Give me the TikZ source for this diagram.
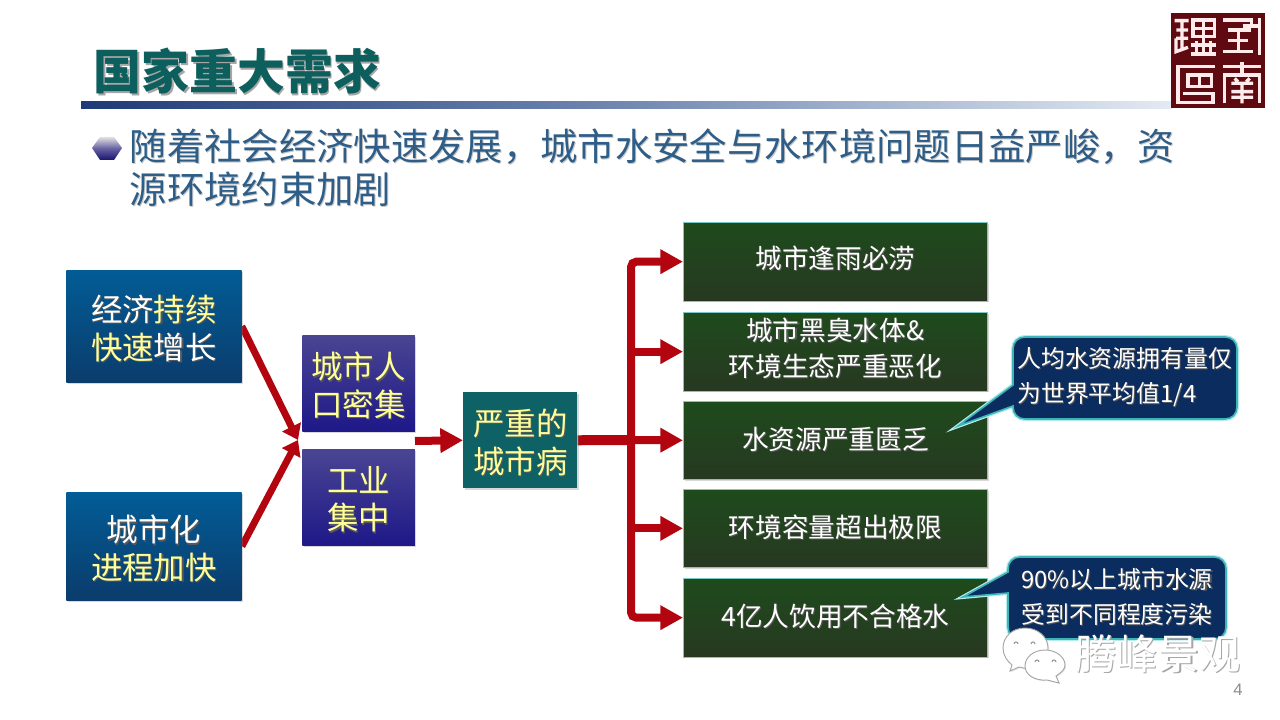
\documentclass[tikz,border=0pt]{standalone}
\usepackage{fontspec}
\setmainfont{Noto Sans CJK SC}
\newfontfamily\numfont{Liberation Sans}
\usetikzlibrary{arrows.meta,shadows,backgrounds,calc}
\definecolor{titlecol}{HTML}{0C5F5C}
\definecolor{subcol}{HTML}{2E5E88}
\definecolor{barred}{HTML}{B30510}
\definecolor{hl}{HTML}{FFFF99}
\definecolor{sealred}{HTML}{5E0A10}
\definecolor{barL}{HTML}{1F3A78}
\definecolor{barM}{HTML}{7188B2}
\definecolor{barR}{HTML}{E4EAF2}
\definecolor{blueT}{HTML}{025C96}
\definecolor{blueB}{HTML}{0B3C6C}
\definecolor{purT}{HTML}{4A4592}
\definecolor{purB}{HTML}{1E1889}
\definecolor{tealbg}{HTML}{0E6266}
\definecolor{grnT}{HTML}{1E4B1C}
\definecolor{grnB}{HTML}{273821}
\definecolor{edgecol}{HTML}{79C9C4}
\definecolor{callbg}{HTML}{0B2C5E}
\definecolor{calledge}{HTML}{3DB4B8}
\definecolor{callglow}{HTML}{B5ECEC}
% shadow behind plain text
\newcommand\sdw[2][black!65]{\rlap{\color{#1}\kern.8pt\raisebox{-.8pt}{#2}}#2}
% shadow behind yellow text
\newcommand\yl[1]{\rlap{\color{black!65}\kern.8pt\raisebox{-.8pt}{#1}}\textcolor{hl}{#1}}
% extra depth that lifts a centred text
\newcommand\lift[1]{\rule[-#1pt]{0pt}{#1pt}}
\tikzset{
  boxbase/.style={rectangle,inner sep=0pt,align=center,anchor=north west,text=white,
    drop shadow={opacity=.3,shadow xshift=1pt,shadow yshift=-1pt}},
  bluebox/.style={boxbase,minimum width=131.5pt,text depth=0pt,font=\fontsize{23.6}{28}\selectfont,
    top color=blueT,bottom color=blueB},
  purplebox/.style={boxbase,minimum width=84.5pt,minimum height=72pt,text depth=0pt,font=\fontsize{23.6}{28}\selectfont,
    top color=purT,bottom color=purB},
  tealbox/.style={boxbase,minimum width=85.5pt,minimum height=72pt,text depth=0pt,font=\fontsize{23.6}{28}\selectfont,
    fill=tealbg},
  greenbox/.style={boxbase,minimum width=228pt,minimum height=59pt,font=\fontsize{20}{27}\selectfont,
    top color=grnT,bottom color=grnB,draw=edgecol,line width=.5pt},
  flow/.style={draw=barred,line width=6pt},
  flowtip/.style={flow,-{Triangle[length=17pt,width=17.5pt]}},
  slant/.style={draw=barred,line width=5.2pt,-{Triangle[length=11pt,width=15pt]}},
  callbody/.style={fill=callbg,draw=calledge,line width=1.2pt,line join=miter,
    preaction={draw=callglow,line width=3pt}},
  calltext/.style={text=white,inner sep=0pt,font=\fontsize{17.9}{25.8}\selectfont},
  sealstroke/.style={draw=white!92!red,line width=2.5pt},
  wmbubble/.style={fill=white,draw=black!35,line width=.7pt,drop shadow={opacity=.2,shadow xshift=.8pt,shadow yshift=-.8pt}},
}
\begin{document}
\begin{tikzpicture}[x=.75pt,y=-.75pt]
\useasboundingbox (0,0) rectangle (1280,720);
\begin{scope}[on background layer]
\fill[white] (0,0) rectangle (1280,720);
\end{scope}

% title
\node[anchor=west,inner sep=0pt,text=titlecol,font=\fontsize{35.9}{40}\bfseries\selectfont] (title) at (93.5,72)
  {\rlap{\color{black!35}\kern1.2pt\raisebox{-1.2pt}{国家重大需求}}国家重大需求};
\shade[left color=barL,right color=barR,middle color=barM] (81,102) rectangle (1172,109);

% bullet
\shade[top color=black!12!white,bottom color=purB!80!black,middle color=purT!85!white]
  (92,148) -- (100,137) -- (114,137) -- (122,148) -- (114,160) -- (100,160) -- cycle;
\node[anchor=north west,inner sep=0pt,text=subcol,align=left,font=\fontsize{28}{32.4}\selectfont] (sub) at (129.5,128.5)
  {\sdw[black!22]{随着社会经济快速发展，城市水安全与水环境问题日益严峻，资}\\\sdw[black!22]{源环境约束加剧}};

% left boxes
\node[bluebox,minimum height=84pt] (econ) at (66,270)
  {\raisebox{-1.5pt}{\rlap{\color{black!65}\kern.8pt\raisebox{-.8pt}{经济持续}}经济\textcolor{hl}{持续}}\\[0pt]
   \raisebox{-1.5pt}{\rlap{\color{black!65}\kern.8pt\raisebox{-.8pt}{快速增长}}\textcolor{hl}{快速}增长}};
\node[bluebox,minimum height=81pt] (urban) at (66,492)
  {\raisebox{-1.5pt}{\sdw{城市化}}\\\raisebox{-1.5pt}{\yl{进程加快}}};
\node[purplebox] (pop) at (302,335) {\raisebox{-1.5pt}{\yl{城市人}}\\\raisebox{-1.5pt}{\yl{口密集}}};
\node[purplebox] (ind) at (302,449) {\raisebox{-1.5pt}{\yl{工业}}\\\raisebox{-1.5pt}{\yl{集中}}};
\node[tealbox] (ill) at (463,392) {\raisebox{-1.5pt}{\yl{严重的}}\\\raisebox{-1.5pt}{\yl{城市病}}};

% right boxes
\node[greenbox] (r1) at (683,222) {\sdw{城市逢雨必涝}\lift{6.2}};
\node[greenbox] (r2) at (683,312) {\sdw{城市黑臭水体\&}\\\sdw{环境生态严重恶化}\lift{6.2}};
\node[greenbox,minimum height=58.5pt] (r3) at (683,401) {\sdw{水资源严重匮乏}};
\node[greenbox,minimum height=58.5pt] (r4) at (683,489) {\sdw{环境容量超出极限}\lift{3.9}};
\node[greenbox] (r5) at (683,578) {\sdw{4亿人饮用不合格水}\lift{3.9}};

% connectors
\coordinate (merge) at (298,440);
\coordinate (gap) at (415,441);
\coordinate (trunk) at (631,440);
\begin{scope}[on background layer]
\draw[slant] (econ.east) -- (merge);
\draw[slant] (urban.east) -- (merge);
\draw[flowtip] (gap) -- (ill.west);
\draw[flow,line width=7.5pt] (ill.east) -- (trunk);
\draw[flowtip,rounded corners=4pt] (trunk) |- (r1.west);
\draw[flowtip,rounded corners=4pt] (trunk) |- (r5.west);
\draw[flowtip] (trunk |- r2.west) -- (r2.west);
\draw[flowtip] (trunk) -- (r3.west);
\draw[flowtip] (trunk |- r4.west) -- (r4.west);
\end{scope}

% callouts
\draw[callbody] (1013,385) -- (1013,349) .. controls (1013,342) and (1018,337) .. (1025,337)
  -- (1225,337) .. controls (1232,337) and (1237,342) .. (1237,349)
  -- (1237,407) .. controls (1237,414) and (1232,419) .. (1225,419)
  -- (1025,419) .. controls (1018,419) and (1013,414) .. (1013,407)
  -- (1013,406) -- (958,426) -- cycle;
\node[calltext,anchor=north west,align=left] (c1) at (1017,347.5) {\sdw{人均水资源拥有量仅}\\\sdw{为世界平均值1/4}};
\draw[callbody] (1008,572) -- (1008,569) .. controls (1008,562) and (1013,557) .. (1020,557)
  -- (1214,557) .. controls (1221,557) and (1226,562) .. (1226,569)
  -- (1226,627) .. controls (1226,634) and (1221,639) .. (1214,639)
  -- (1020,639) .. controls (1013,639) and (1008,634) .. (1008,627)
  -- (1008,593) -- (963,597) -- cycle;
\node[calltext,align=center] (c2) at (1117,597.5) {\sdw{90\%以上城市水源}\\\sdw{受到不同程度污染}};

% watermark
\path[wmbubble] (1025,628) .. controls (1012,628) and (1003,637) .. (1003,648)
  .. controls (1003,655) and (1007,661) .. (1012,665) -- (1010,671) -- (1019,667)
  .. controls (1030,671) and (1048,665) .. (1048,648) .. controls (1048,637) and (1038,628) .. (1025,628) -- cycle;
\path[wmbubble] (1045,650) .. controls (1034,650) and (1025,657) .. (1025,666)
  .. controls (1025,675) and (1035,681) .. (1047,680) -- (1059,683) -- (1056,676)
  .. controls (1062,672) and (1065,669) .. (1065,665) .. controls (1065,657) and (1056,650) .. (1045,650) -- cycle;
\foreach \ex/\ey in {1016/643,1033/643,1037/661,1054/661}
  \draw[black!40,line width=.8pt] (\ex-2,\ey+1) arc[start angle=180,end angle=0,radius=1.5pt];
\node[anchor=west,inner sep=0pt,text=white,font=\fontsize{31}{36}\selectfont] (wm) at (1075,654)
  {\sdw[black!35]{腾峰景观}};

% page number
\node[text=black!45,inner sep=0pt,font=\numfont\fontsize{12.5}{14}\selectfont] (pg) at (1238,690) {4};

% seal
\fill[sealred] (1171,13) rectangle (1265,108);
\begin{scope}[shift={(1168,10)},x=.25pt,y=-.25pt,sealstroke]
\draw (20,32)--(62,32) (25,60)--(60,60) (42,32)--(42,85) (24,85)--(60,85) (24,85)--(24,125)--(60,112) (42,85)--(42,118);
\draw (75,30) rectangle (140,80) (75,55)--(140,55) (107,30)--(107,130) (68,105)--(145,105) (68,132)--(145,132) (86,92)--(86,132) (128,92)--(128,132);
\draw (140,170)--(30,170)--(30,278)--(135,278)--(135,250)--(45,250);
\draw (60,195) rectangle (130,230) (95,195)--(95,230);
\draw (165,30)--(250,30)--(250,48) (275,25)--(275,135) (225,48)--(275,48) (180,60)--(250,60) (212,60)--(212,125) (180,92)--(240,92) (165,125)--(255,125);
\draw (165,170)--(280,170) (222,155)--(222,195) (170,280)--(170,195)--(275,195)--(275,280);
\draw (190,220)--(255,220) (222,220)--(222,280) (190,245)--(255,245) (190,262)--(255,262) (200,205)--(210,215) (245,205)--(235,215);
\end{scope}
\end{tikzpicture}
\end{document}
